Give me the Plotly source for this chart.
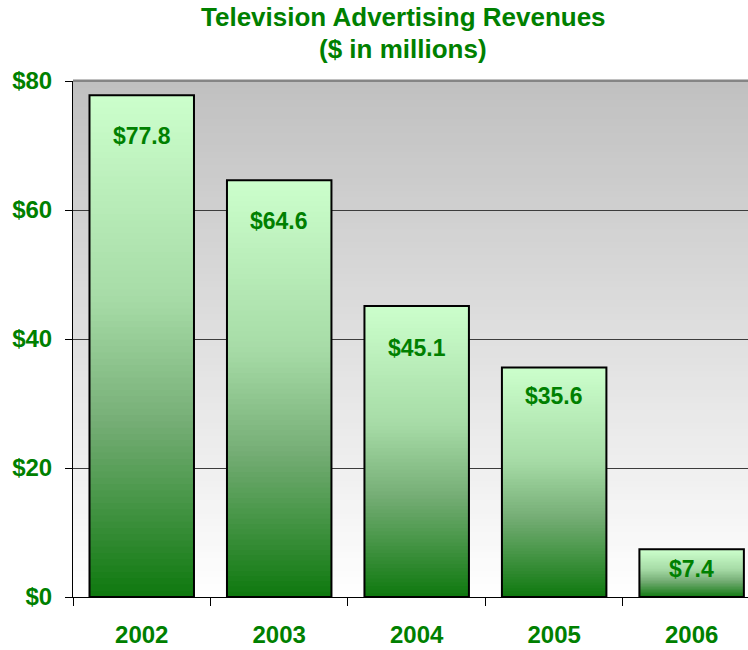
import plotly.graph_objects as go

# ---- data ----
years = ["2002", "2003", "2004", "2005", "2006"]
revenues = [77.8, 64.6, 45.1, 35.6, 7.4]
value_labels = ["$77.8", "$64.6", "$45.1", "$35.6", "$7.4"]
y_tickvals = [0, 20, 40, 60, 80]
y_ticktext = ["$0", "$20", "$40", "$60", "$80"]
title_lines = ["Television Advertising Revenues", "($ in millions)"]

# ---- style ----
GREEN = "#008000"
FONT = "Liberation Sans, Arial, sans-serif"
N_SEG = 80      # gradient slices per bar
N_BG = 80       # gradient bands in plot background
label_shift = [-41, -41, -42, -29, -20]
title_y = [1.1231, 1.062]

# bar gradient stops: t=0 top (light) -> t=1 bottom (dark)
bar_stops = [
    (0.00, (204, 255, 204)),
    (0.41, (166, 219, 166)),
    (0.65, (118, 174, 118)),
    (0.89, (47, 137, 47)),
    (1.00, (14, 120, 14)),
]


def interp(stops, t):
    for (t0, c0), (t1, c1) in zip(stops[:-1], stops[1:]):
        if t <= t1:
            f = (t - t0) / (t1 - t0) if t1 > t0 else 0
            return "rgb(%d,%d,%d)" % tuple(round(a + (b - a) * f) for a, b in zip(c0, c1))
    c = stops[-1][1]
    return "rgb(%d,%d,%d)" % c


fig = go.Figure()

# gradient slices (bottom slice first); each slice overlaps the next one
for i in range(N_SEG):
    t = 1 - (i + 0.5) / N_SEG
    bases = [v * i / N_SEG for v in revenues]
    heights = [min(2 * v / N_SEG, v - b) for v, b in zip(revenues, bases)]
    fig.add_trace(go.Bar(
        x=years,
        y=heights,
        base=bases,
        width=0.76,
        marker=dict(color=interp(bar_stops, t), line=dict(width=0)),
        hoverinfo="skip",
        showlegend=False,
    ))

# outline
fig.add_trace(go.Bar(
    x=years,
    y=revenues,
    base=[0] * len(revenues),
    width=0.76,
    marker=dict(color="rgba(0,0,0,0)", line=dict(color="black", width=2)),
    showlegend=False,
))

# background gradient bands
shapes = []
for j in range(N_BG):
    t = (j + 0.5) / N_BG  # 0 bottom -> 1 top
    g = round(255 - (255 - 192) * t)
    shapes.append(dict(
        type="rect", xref="x domain", yref="y domain",
        x0=0, x1=1, y0=j / N_BG, y1=(j + 1) / N_BG + 0.004,
        fillcolor="rgb(%d,%d,%d)" % (g, g, g), line=dict(width=0),
        layer="below",
    ))
# top border line (gray)
shapes.append(dict(type="line", xref="x domain", yref="y domain",
                   x0=0, x1=1, y0=1, y1=1,
                   line=dict(color="#858585", width=2), layer="above"))

annotations = []
for idx, (v, lab, sh) in enumerate(zip(revenues, value_labels, label_shift)):
    annotations.append(dict(
        x=idx, y=v, xref="x", yref="y", text=lab, showarrow=False, yshift=sh,
        font=dict(family=FONT, size=23, color=GREEN, weight="bold"),
    ))
for line, ty in zip(title_lines, title_y):
    annotations.append(dict(
        x=0.4889, y=ty, xref="paper", yref="paper", text=line, showarrow=False,
        xanchor="center", yanchor="middle",
        font=dict(family=FONT, size=26, color=GREEN, weight="bold"),
    ))

fig.update_layout(
    width=748, height=650,
    margin=dict(l=73, r=0, t=81, b=53),
    paper_bgcolor="white",
    plot_bgcolor="white",
    barmode="overlay",
    shapes=shapes,
    annotations=annotations,
    xaxis=dict(
        type="category",
        range=[-0.5, 4.41],
        showgrid=False,
        showline=True, linecolor="black", linewidth=1,
        ticks="outside", tickson="boundaries", ticklen=8, tickcolor="black",
        tickfont=dict(family=FONT, size=24, color=GREEN, weight="bold"),
        ticklabelstandoff=16,
    ),
    yaxis=dict(
        range=[0, 80],
        tickvals=y_tickvals, ticktext=y_ticktext,
        showgrid=True, gridcolor="#3c3c3c", gridwidth=1,
        showline=True, linecolor="black", linewidth=1,
        ticks="outside", ticklen=7, tickcolor="black",
        tickfont=dict(family=FONT, size=24, color=GREEN, weight="bold"),
        ticklabelstandoff=8,
        zeroline=False,
    ),
)

fig.write_html("out.html", config={"displayModeBar": False},
               post_script="document.body.style.margin='0';")
